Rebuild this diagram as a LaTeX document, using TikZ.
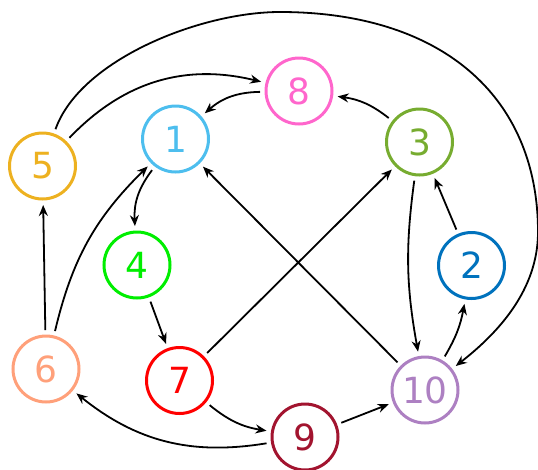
\documentclass[tikz,border=0pt]{standalone}
\usepackage{fontspec}
\setmainfont{DejaVu Sans}
\usetikzlibrary{arrows.meta}
\definecolor{c1}{HTML}{4DBEEE}
\definecolor{c2}{HTML}{0072BD}
\definecolor{c3}{HTML}{77AC30}
\definecolor{c4}{HTML}{00EE00}
\definecolor{c5}{HTML}{EDB120}
\definecolor{c6}{HTML}{FFA07A}
\definecolor{c7}{HTML}{FF0000}
\definecolor{c8}{HTML}{FF66CC}
\definecolor{c9}{HTML}{A2142F}
\definecolor{c10}{HTML}{AD80C2}
\begin{document}
\begin{tikzpicture}[x=1pt,y=-1pt,
  vtx/.style={circle,draw=#1,text=#1,line width=3pt,minimum size=66pt,inner sep=0pt,outer sep=6pt,font=\fontsize{36}{36}\selectfont},
  edge/.style={line width=1.8pt,-{Stealth[length=11pt,width=9pt]}}]
\useasboundingbox (0,0) rectangle (538,469);
\node[vtx=c8] (n8) at (299,91) {8};
\node[vtx=c1] (n1) at (175.5,139) {1};
\node[vtx=c3] (n3) at (419.5,142) {3};
\node[vtx=c5] (n5) at (42.5,166) {5};
\node[vtx=c4] (n4) at (137,265) {4};
\node[vtx=c2] (n2) at (471.5,265.5) {2};
\node[vtx=c6] (n6) at (46,369) {6};
\node[vtx=c7] (n7) at (179.5,380.5) {7};
\node[vtx=c10] (n10) at (425,390) {10};
\node[vtx=c9] (n9) at (305,437) {9};
\coordinate (top) at (280,12);
\coordinate (rgt) at (538,232);
\draw[edge] (n8) to[bend right=20] (n1);
\draw[edge] (n3) to[bend right=15] (n8);
\draw[edge] (n5) to[bend left=30] (n8);
\draw[edge] (n5) .. controls (80,60) and (200,12) .. (top)
  .. controls (440,12) and (538,95) .. (rgt)
  .. controls (538,290) and (498,333) .. (n10);
\draw[edge] (n1) to[bend right=20] (n4);
\draw[edge] (n6) to[bend left=16] (n1);
\draw[edge] (n6) -- (n5);
\draw[edge] (n4) -- (n7);
\draw[edge] (n7) -- (n3);
\draw[edge] (n10) -- (n1);
\draw[edge] (n3) to[bend right=9] (n10);
\draw[edge] (n2) -- (n3);
\draw[edge] (n10) to[bend right=10] (n2);
\draw[edge] (n9) -- (n10);
\draw[edge] (n7) to[bend right=15] (n9);
\draw[edge] (n9) to[bend left=24] (n6);
\end{tikzpicture}
\end{document}
